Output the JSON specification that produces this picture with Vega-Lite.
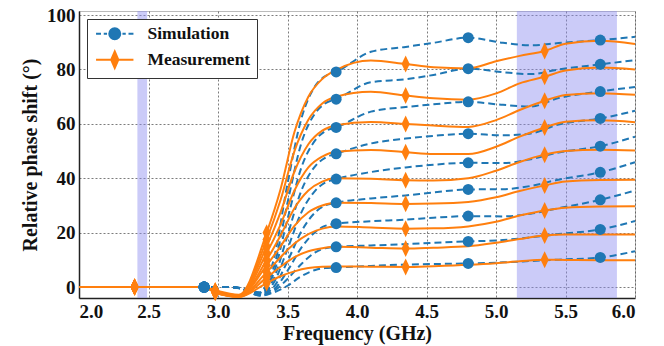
{
"$schema": "https://vega.github.io/schema/vega-lite/v6.json",
"width": 556, "height": 287,
"autosize": "none",
"padding": {"left": 79, "top": 11, "right": 29, "bottom": 48},
"background": "white",
"config": {
 "view": {"stroke": "#bbb", "strokeWidth": 1},
 "font": "Liberation Serif, serif",
 "axis": {"labelFont": "Liberation Serif, serif", "labelFontWeight": "bold", "labelFontSize": 19, "labelColor": "#111", "titleFont": "Liberation Serif, serif", "titleFontWeight": "bold", "titleFontSize": 20, "titleColor": "#111", "ticks": false, "domainColor": "#222", "domainWidth": 1.5, "gridColor": "#444", "gridDash": [2, 2], "gridOpacity": 0.7, "gridWidth": 1, "labelPadding": 4},
 "axisX": {"titlePadding": 2},
 "axisY": {"titlePadding": 6},
 "legend": {"orient": "top-left", "offset": 8, "labelFont": "Liberation Serif, serif", "labelFontWeight": "bold", "labelFontSize": 17.5, "labelColor": "#111", "strokeColor": "#333", "fillColor": "white", "padding": 6, "symbolSize": 121, "symbolStrokeWidth": 2, "symbolOffset": 13, "labelOffset": 24, "rowPadding": 3, "symbolOpacity": 1}
},
"datasets": {
 "bands": [{"x1": 2.42, "x2": 2.49}, {"x1": 5.15, "x2": 5.87}],
 "curves": [
{"s":"S","k":9,"x":2,"y":0},{"s":"S","k":9,"x":2.9,"y":0},{"s":"S","k":9,"x":3.1,"y":0},{"s":"S","k":9,"x":3.2,"y":-0.8},{"s":"S","k":9,"x":3.3,"y":-2},{"s":"S","k":9,"x":3.4,"y":10},{"s":"S","k":9,"x":3.5,"y":38},{"s":"S","k":9,"x":3.6,"y":62},{"s":"S","k":9,"x":3.7,"y":74},{"s":"S","k":9,"x":3.77,"y":77.5},{"s":"S","k":9,"x":3.85,"y":79.1},{"s":"S","k":9,"x":4.1,"y":86.5},{"s":"S","k":9,"x":4.35,"y":88.3},{"s":"S","k":9,"x":4.55,"y":89.8},{"s":"S","k":9,"x":4.8,"y":91.7},{"s":"S","k":9,"x":5.05,"y":89.8},{"s":"S","k":9,"x":5.25,"y":88.9},{"s":"S","k":9,"x":5.45,"y":89.7},{"s":"S","k":9,"x":5.75,"y":90.8},{"s":"S","k":9,"x":6,"y":92},
{"s":"S","k":8,"x":2,"y":0},{"s":"S","k":8,"x":2.9,"y":0},{"s":"S","k":8,"x":3.1,"y":0},{"s":"S","k":8,"x":3.2,"y":-0.8},{"s":"S","k":8,"x":3.3,"y":-2},{"s":"S","k":8,"x":3.4,"y":7},{"s":"S","k":8,"x":3.5,"y":31},{"s":"S","k":8,"x":3.6,"y":53},{"s":"S","k":8,"x":3.7,"y":64},{"s":"S","k":8,"x":3.77,"y":67.5},{"s":"S","k":8,"x":3.85,"y":69.1},{"s":"S","k":8,"x":4.1,"y":75.3},{"s":"S","k":8,"x":4.35,"y":76.4},{"s":"S","k":8,"x":4.55,"y":78},{"s":"S","k":8,"x":4.8,"y":80.3},{"s":"S","k":8,"x":5.05,"y":79},{"s":"S","k":8,"x":5.25,"y":78.3},{"s":"S","k":8,"x":5.45,"y":80},{"s":"S","k":8,"x":5.75,"y":81.9},{"s":"S","k":8,"x":6,"y":83.4},
{"s":"S","k":7,"x":2,"y":0},{"s":"S","k":7,"x":2.9,"y":0},{"s":"S","k":7,"x":3.1,"y":0},{"s":"S","k":7,"x":3.2,"y":-0.8},{"s":"S","k":7,"x":3.3,"y":-2.2},{"s":"S","k":7,"x":3.4,"y":5},{"s":"S","k":7,"x":3.5,"y":25},{"s":"S","k":7,"x":3.6,"y":44},{"s":"S","k":7,"x":3.7,"y":54},{"s":"S","k":7,"x":3.77,"y":57.3},{"s":"S","k":7,"x":3.85,"y":58.7},{"s":"S","k":7,"x":4.1,"y":64.5},{"s":"S","k":7,"x":4.35,"y":66.2},{"s":"S","k":7,"x":4.55,"y":67.2},{"s":"S","k":7,"x":4.8,"y":68.1},{"s":"S","k":7,"x":5.05,"y":67},{"s":"S","k":7,"x":5.25,"y":66.4},{"s":"S","k":7,"x":5.45,"y":69.5},{"s":"S","k":7,"x":5.75,"y":71.9},{"s":"S","k":7,"x":6,"y":73.6},
{"s":"S","k":6,"x":2,"y":0},{"s":"S","k":6,"x":2.9,"y":0},{"s":"S","k":6,"x":3.1,"y":0},{"s":"S","k":6,"x":3.2,"y":-0.9},{"s":"S","k":6,"x":3.3,"y":-2.4},{"s":"S","k":6,"x":3.4,"y":3},{"s":"S","k":6,"x":3.5,"y":19},{"s":"S","k":6,"x":3.6,"y":35.5},{"s":"S","k":6,"x":3.7,"y":44.5},{"s":"S","k":6,"x":3.77,"y":47.5},{"s":"S","k":6,"x":3.85,"y":49},{"s":"S","k":6,"x":4.1,"y":52.8},{"s":"S","k":6,"x":4.35,"y":54.6},{"s":"S","k":6,"x":4.55,"y":55.6},{"s":"S","k":6,"x":4.8,"y":56.4},{"s":"S","k":6,"x":5.05,"y":55.8},{"s":"S","k":6,"x":5.25,"y":56.5},{"s":"S","k":6,"x":5.45,"y":59.8},{"s":"S","k":6,"x":5.75,"y":62},{"s":"S","k":6,"x":6,"y":64.8},
{"s":"S","k":5,"x":2,"y":0},{"s":"S","k":5,"x":2.9,"y":0},{"s":"S","k":5,"x":3.1,"y":0},{"s":"S","k":5,"x":3.2,"y":-1},{"s":"S","k":5,"x":3.3,"y":-2.6},{"s":"S","k":5,"x":3.4,"y":1.5},{"s":"S","k":5,"x":3.5,"y":14},{"s":"S","k":5,"x":3.6,"y":27.5},{"s":"S","k":5,"x":3.7,"y":35.5},{"s":"S","k":5,"x":3.77,"y":38.4},{"s":"S","k":5,"x":3.85,"y":39.7},{"s":"S","k":5,"x":4.1,"y":42.3},{"s":"S","k":5,"x":4.35,"y":44},{"s":"S","k":5,"x":4.55,"y":45},{"s":"S","k":5,"x":4.8,"y":45.7},{"s":"S","k":5,"x":5.05,"y":45.6},{"s":"S","k":5,"x":5.25,"y":47},{"s":"S","k":5,"x":5.45,"y":49.5},{"s":"S","k":5,"x":5.75,"y":51.8},{"s":"S","k":5,"x":6,"y":55.3},
{"s":"S","k":4,"x":2,"y":0},{"s":"S","k":4,"x":2.9,"y":0},{"s":"S","k":4,"x":3.1,"y":0},{"s":"S","k":4,"x":3.2,"y":-1},{"s":"S","k":4,"x":3.3,"y":-2.8},{"s":"S","k":4,"x":3.4,"y":0},{"s":"S","k":4,"x":3.5,"y":9.5},{"s":"S","k":4,"x":3.6,"y":20.5},{"s":"S","k":4,"x":3.7,"y":27.5},{"s":"S","k":4,"x":3.77,"y":30},{"s":"S","k":4,"x":3.85,"y":31},{"s":"S","k":4,"x":4.1,"y":32.6},{"s":"S","k":4,"x":4.35,"y":33.7},{"s":"S","k":4,"x":4.55,"y":34.8},{"s":"S","k":4,"x":4.8,"y":35.9},{"s":"S","k":4,"x":5.05,"y":36},{"s":"S","k":4,"x":5.25,"y":37.2},{"s":"S","k":4,"x":5.45,"y":39.5},{"s":"S","k":4,"x":5.75,"y":42.2},{"s":"S","k":4,"x":6,"y":45.9},
{"s":"S","k":3,"x":2,"y":0},{"s":"S","k":3,"x":2.9,"y":0},{"s":"S","k":3,"x":3.1,"y":0},{"s":"S","k":3,"x":3.2,"y":-1.1},{"s":"S","k":3,"x":3.3,"y":-3},{"s":"S","k":3,"x":3.4,"y":-1},{"s":"S","k":3,"x":3.5,"y":6},{"s":"S","k":3,"x":3.6,"y":14.5},{"s":"S","k":3,"x":3.7,"y":20.3},{"s":"S","k":3,"x":3.77,"y":22.5},{"s":"S","k":3,"x":3.85,"y":23.3},{"s":"S","k":3,"x":4.1,"y":24.2},{"s":"S","k":3,"x":4.35,"y":24.8},{"s":"S","k":3,"x":4.55,"y":25.5},{"s":"S","k":3,"x":4.8,"y":26.1},{"s":"S","k":3,"x":5.05,"y":26},{"s":"S","k":3,"x":5.25,"y":27},{"s":"S","k":3,"x":5.45,"y":29},{"s":"S","k":3,"x":5.75,"y":32.1},{"s":"S","k":3,"x":6,"y":35.5},
{"s":"S","k":2,"x":2,"y":0},{"s":"S","k":2,"x":2.9,"y":0},{"s":"S","k":2,"x":3.1,"y":0},{"s":"S","k":2,"x":3.2,"y":-1.1},{"s":"S","k":2,"x":3.3,"y":-3},{"s":"S","k":2,"x":3.4,"y":-1.5},{"s":"S","k":2,"x":3.5,"y":3},{"s":"S","k":2,"x":3.6,"y":8.5},{"s":"S","k":2,"x":3.7,"y":12.8},{"s":"S","k":2,"x":3.77,"y":14.3},{"s":"S","k":2,"x":3.85,"y":14.8},{"s":"S","k":2,"x":4.1,"y":15.3},{"s":"S","k":2,"x":4.35,"y":15.8},{"s":"S","k":2,"x":4.55,"y":16.3},{"s":"S","k":2,"x":4.8,"y":16.8},{"s":"S","k":2,"x":5.05,"y":17.3},{"s":"S","k":2,"x":5.25,"y":18.3},{"s":"S","k":2,"x":5.45,"y":19.5},{"s":"S","k":2,"x":5.75,"y":21.2},{"s":"S","k":2,"x":6,"y":24.3},
{"s":"S","k":1,"x":2,"y":0},{"s":"S","k":1,"x":2.9,"y":0},{"s":"S","k":1,"x":3.1,"y":0},{"s":"S","k":1,"x":3.2,"y":-1.2},{"s":"S","k":1,"x":3.3,"y":-3.2},{"s":"S","k":1,"x":3.4,"y":-2},{"s":"S","k":1,"x":3.5,"y":0.5},{"s":"S","k":1,"x":3.6,"y":4},{"s":"S","k":1,"x":3.7,"y":6.3},{"s":"S","k":1,"x":3.77,"y":7},{"s":"S","k":1,"x":3.85,"y":7.2},{"s":"S","k":1,"x":4.1,"y":7.8},{"s":"S","k":1,"x":4.35,"y":8.3},{"s":"S","k":1,"x":4.55,"y":8.5},{"s":"S","k":1,"x":4.8,"y":8.7},{"s":"S","k":1,"x":5.05,"y":9.1},{"s":"S","k":1,"x":5.25,"y":9.6},{"s":"S","k":1,"x":5.45,"y":10.1},{"s":"S","k":1,"x":5.75,"y":10.9},{"s":"S","k":1,"x":6,"y":13.2},
{"s":"M","k":9,"x":2,"y":0},{"s":"M","k":9,"x":2.4,"y":0},{"s":"M","k":9,"x":2.9,"y":0},{"s":"M","k":9,"x":2.98,"y":-1.2},{"s":"M","k":9,"x":3.15,"y":-2.8},{"s":"M","k":9,"x":3.35,"y":20},{"s":"M","k":9,"x":3.45,"y":36},{"s":"M","k":9,"x":3.55,"y":57},{"s":"M","k":9,"x":3.65,"y":70},{"s":"M","k":9,"x":3.75,"y":76.5},{"s":"M","k":9,"x":3.85,"y":79.8},{"s":"M","k":9,"x":4.1,"y":83.3},{"s":"M","k":9,"x":4.35,"y":82},{"s":"M","k":9,"x":4.55,"y":80.8},{"s":"M","k":9,"x":4.8,"y":80.4},{"s":"M","k":9,"x":5,"y":83},{"s":"M","k":9,"x":5.17,"y":85},{"s":"M","k":9,"x":5.35,"y":86.8},{"s":"M","k":9,"x":5.5,"y":89.5},{"s":"M","k":9,"x":5.75,"y":90.6},{"s":"M","k":9,"x":6,"y":89.4},
{"s":"M","k":8,"x":2,"y":0},{"s":"M","k":8,"x":2.4,"y":0},{"s":"M","k":8,"x":2.9,"y":0},{"s":"M","k":8,"x":2.98,"y":-1.4},{"s":"M","k":8,"x":3.15,"y":-3},{"s":"M","k":8,"x":3.35,"y":17.5},{"s":"M","k":8,"x":3.45,"y":32},{"s":"M","k":8,"x":3.55,"y":50},{"s":"M","k":8,"x":3.65,"y":61.5},{"s":"M","k":8,"x":3.75,"y":67.5},{"s":"M","k":8,"x":3.85,"y":70},{"s":"M","k":8,"x":4.1,"y":71.8},{"s":"M","k":8,"x":4.35,"y":70.4},{"s":"M","k":8,"x":4.55,"y":69.4},{"s":"M","k":8,"x":4.8,"y":68.9},{"s":"M","k":8,"x":5,"y":71.2},{"s":"M","k":8,"x":5.17,"y":74.9},{"s":"M","k":8,"x":5.35,"y":77.3},{"s":"M","k":8,"x":5.5,"y":79.6},{"s":"M","k":8,"x":5.75,"y":80.7},{"s":"M","k":8,"x":6,"y":80},
{"s":"M","k":7,"x":2,"y":0},{"s":"M","k":7,"x":2.4,"y":0},{"s":"M","k":7,"x":2.9,"y":0},{"s":"M","k":7,"x":2.98,"y":-1.5},{"s":"M","k":7,"x":3.15,"y":-3.1},{"s":"M","k":7,"x":3.35,"y":15},{"s":"M","k":7,"x":3.45,"y":27.5},{"s":"M","k":7,"x":3.55,"y":42.5},{"s":"M","k":7,"x":3.65,"y":52.5},{"s":"M","k":7,"x":3.75,"y":57.5},{"s":"M","k":7,"x":3.85,"y":59.5},{"s":"M","k":7,"x":4.1,"y":60.7},{"s":"M","k":7,"x":4.35,"y":60},{"s":"M","k":7,"x":4.55,"y":59.4},{"s":"M","k":7,"x":4.8,"y":58.9},{"s":"M","k":7,"x":5,"y":61.4},{"s":"M","k":7,"x":5.17,"y":65.1},{"s":"M","k":7,"x":5.35,"y":68.5},{"s":"M","k":7,"x":5.5,"y":70.6},{"s":"M","k":7,"x":5.75,"y":71.3},{"s":"M","k":7,"x":6,"y":70.7},
{"s":"M","k":6,"x":2,"y":0},{"s":"M","k":6,"x":2.4,"y":0},{"s":"M","k":6,"x":2.9,"y":0},{"s":"M","k":6,"x":2.98,"y":-1.6},{"s":"M","k":6,"x":3.15,"y":-3.2},{"s":"M","k":6,"x":3.35,"y":12.5},{"s":"M","k":6,"x":3.45,"y":23},{"s":"M","k":6,"x":3.55,"y":35.5},{"s":"M","k":6,"x":3.65,"y":44},{"s":"M","k":6,"x":3.75,"y":48},{"s":"M","k":6,"x":3.85,"y":49.8},{"s":"M","k":6,"x":4.1,"y":50.4},{"s":"M","k":6,"x":4.35,"y":49.6},{"s":"M","k":6,"x":4.55,"y":48.9},{"s":"M","k":6,"x":4.8,"y":48.9},{"s":"M","k":6,"x":5,"y":51.6},{"s":"M","k":6,"x":5.17,"y":55.3},{"s":"M","k":6,"x":5.35,"y":58.7},{"s":"M","k":6,"x":5.5,"y":60.8},{"s":"M","k":6,"x":5.75,"y":61.3},{"s":"M","k":6,"x":6,"y":60.6},
{"s":"M","k":5,"x":2,"y":0},{"s":"M","k":5,"x":2.4,"y":0},{"s":"M","k":5,"x":2.9,"y":0},{"s":"M","k":5,"x":2.98,"y":-1.7},{"s":"M","k":5,"x":3.15,"y":-3.3},{"s":"M","k":5,"x":3.35,"y":10},{"s":"M","k":5,"x":3.45,"y":19},{"s":"M","k":5,"x":3.55,"y":29},{"s":"M","k":5,"x":3.65,"y":35.5},{"s":"M","k":5,"x":3.75,"y":38.8},{"s":"M","k":5,"x":3.85,"y":40},{"s":"M","k":5,"x":4.1,"y":39.8},{"s":"M","k":5,"x":4.35,"y":39.3},{"s":"M","k":5,"x":4.55,"y":39.2},{"s":"M","k":5,"x":4.8,"y":40},{"s":"M","k":5,"x":5,"y":42.8},{"s":"M","k":5,"x":5.17,"y":46},{"s":"M","k":5,"x":5.35,"y":48.7},{"s":"M","k":5,"x":5.5,"y":50},{"s":"M","k":5,"x":5.75,"y":50.5},{"s":"M","k":5,"x":6,"y":50.2},
{"s":"M","k":4,"x":2,"y":0},{"s":"M","k":4,"x":2.4,"y":0},{"s":"M","k":4,"x":2.9,"y":0},{"s":"M","k":4,"x":2.98,"y":-1.8},{"s":"M","k":4,"x":3.15,"y":-3.4},{"s":"M","k":4,"x":3.35,"y":8},{"s":"M","k":4,"x":3.45,"y":15},{"s":"M","k":4,"x":3.55,"y":22.5},{"s":"M","k":4,"x":3.65,"y":27.5},{"s":"M","k":4,"x":3.75,"y":30},{"s":"M","k":4,"x":3.85,"y":31},{"s":"M","k":4,"x":4.1,"y":30.9},{"s":"M","k":4,"x":4.35,"y":30.6},{"s":"M","k":4,"x":4.55,"y":30.7},{"s":"M","k":4,"x":4.8,"y":31.3},{"s":"M","k":4,"x":5,"y":33},{"s":"M","k":4,"x":5.17,"y":35.3},{"s":"M","k":4,"x":5.35,"y":37.4},{"s":"M","k":4,"x":5.5,"y":38.8},{"s":"M","k":4,"x":5.75,"y":39.4},{"s":"M","k":4,"x":6,"y":39.5},
{"s":"M","k":3,"x":2,"y":0},{"s":"M","k":3,"x":2.4,"y":0},{"s":"M","k":3,"x":2.9,"y":0},{"s":"M","k":3,"x":2.98,"y":-1.9},{"s":"M","k":3,"x":3.15,"y":-3.5},{"s":"M","k":3,"x":3.35,"y":5.5},{"s":"M","k":3,"x":3.45,"y":11},{"s":"M","k":3,"x":3.55,"y":16},{"s":"M","k":3,"x":3.65,"y":19.5},{"s":"M","k":3,"x":3.75,"y":21.5},{"s":"M","k":3,"x":3.85,"y":22.3},{"s":"M","k":3,"x":4.1,"y":21.9},{"s":"M","k":3,"x":4.35,"y":21.5},{"s":"M","k":3,"x":4.55,"y":21.6},{"s":"M","k":3,"x":4.8,"y":22.3},{"s":"M","k":3,"x":5,"y":24},{"s":"M","k":3,"x":5.17,"y":26.3},{"s":"M","k":3,"x":5.35,"y":28.2},{"s":"M","k":3,"x":5.5,"y":29.2},{"s":"M","k":3,"x":5.75,"y":29.6},{"s":"M","k":3,"x":6,"y":29.7},
{"s":"M","k":2,"x":2,"y":0},{"s":"M","k":2,"x":2.4,"y":0},{"s":"M","k":2,"x":2.9,"y":0},{"s":"M","k":2,"x":2.98,"y":-2},{"s":"M","k":2,"x":3.15,"y":-3.5},{"s":"M","k":2,"x":3.35,"y":3.5},{"s":"M","k":2,"x":3.45,"y":7.5},{"s":"M","k":2,"x":3.55,"y":11},{"s":"M","k":2,"x":3.65,"y":13.2},{"s":"M","k":2,"x":3.75,"y":14.3},{"s":"M","k":2,"x":3.85,"y":14.8},{"s":"M","k":2,"x":4.1,"y":14.5},{"s":"M","k":2,"x":4.35,"y":14.2},{"s":"M","k":2,"x":4.55,"y":14.5},{"s":"M","k":2,"x":4.8,"y":15},{"s":"M","k":2,"x":5,"y":16.3},{"s":"M","k":2,"x":5.17,"y":17.7},{"s":"M","k":2,"x":5.35,"y":19},{"s":"M","k":2,"x":5.5,"y":19.3},{"s":"M","k":2,"x":5.75,"y":19.3},{"s":"M","k":2,"x":6,"y":19.3},
{"s":"M","k":1,"x":2,"y":0},{"s":"M","k":1,"x":2.4,"y":0},{"s":"M","k":1,"x":2.9,"y":0},{"s":"M","k":1,"x":2.98,"y":-2},{"s":"M","k":1,"x":3.15,"y":-3.6},{"s":"M","k":1,"x":3.35,"y":1.5},{"s":"M","k":1,"x":3.45,"y":4},{"s":"M","k":1,"x":3.55,"y":5.8},{"s":"M","k":1,"x":3.65,"y":7},{"s":"M","k":1,"x":3.75,"y":7.5},{"s":"M","k":1,"x":3.85,"y":7.6},{"s":"M","k":1,"x":4.1,"y":7.5},{"s":"M","k":1,"x":4.35,"y":7.4},{"s":"M","k":1,"x":4.55,"y":7.7},{"s":"M","k":1,"x":4.8,"y":8.2},{"s":"M","k":1,"x":5,"y":8.8},{"s":"M","k":1,"x":5.17,"y":9.5},{"s":"M","k":1,"x":5.35,"y":10.1},{"s":"M","k":1,"x":5.5,"y":10},{"s":"M","k":1,"x":5.75,"y":9.9},{"s":"M","k":1,"x":6,"y":9.9}
 ]
},
"layer": [
 {
  "data": {"name": "bands"},
  "mark": {"type": "rect", "color": "#8c8cf0", "opacity": 0.45},
  "encoding": {
   "x": {"field": "x1", "type": "quantitative", "scale": {"domain": [2, 6], "nice": false, "zero": false}, "title": "Frequency (GHz)"},
   "x2": {"field": "x2"}
  }
 },
 {
  "data": {"name": "curves"},
  "transform": [{"filter": "datum.s == 'S'"}],
  "mark": {"type": "line", "interpolate": "monotone", "strokeWidth": 2, "strokeDash": [7, 4], "color": "#1f77b4"},
  "encoding": {
   "x": {"field": "x", "type": "quantitative", "scale": {"domain": [2, 6], "nice": false, "zero": false}, "title": "Frequency (GHz)", "axis": {"values": [2, 2.5, 3, 3.5, 4, 4.5, 5, 5.5, 6], "format": ".1f"}},
   "y": {"field": "y", "type": "quantitative", "scale": {"domain": [-4, 101.5], "nice": false, "zero": false}, "title": "Relative phase shift (°)", "axis": {"values": [0, 10, 20, 30, 40, 50, 60, 70, 80, 90, 100]}},
   "detail": {"field": "k", "type": "nominal"}
  }
 },
 {
  "data": {"name": "curves"},
  "transform": [{"filter": "datum.s == 'M'"}],
  "mark": {"type": "line", "interpolate": "monotone", "strokeWidth": 2, "color": "#ff7f0e"},
  "encoding": {
   "x": {"field": "x", "type": "quantitative", "scale": {"domain": [2, 6], "nice": false, "zero": false}, "title": "Frequency (GHz)"},
   "y": {"field": "y", "type": "quantitative", "scale": {"domain": [-4, 101.5], "nice": false, "zero": false}, "title": "Relative phase shift (°)"},
   "detail": {"field": "k", "type": "nominal"}
  }
 },
 {
  "data": {"name": "curves"},
  "transform": [{"filter": "datum.s == 'S' && (datum.x == 2.9 || datum.x == 3.85 || datum.x == 4.8 || datum.x == 5.75)"}],
  "mark": {"type": "circle", "size": 121, "color": "#1f77b4", "opacity": 1},
  "encoding": {
   "x": {"field": "x", "type": "quantitative", "scale": {"domain": [2, 6], "nice": false, "zero": false}, "title": "Frequency (GHz)"},
   "y": {"field": "y", "type": "quantitative", "scale": {"domain": [-4, 101.5], "nice": false, "zero": false}, "title": "Relative phase shift (°)"}
  }
 },
 {
  "data": {"name": "curves"},
  "transform": [{"filter": "datum.s == 'M' && (datum.x == 2.4 || datum.x == 2.98 || datum.x == 3.35 || datum.x == 4.35 || datum.x == 5.35)"}],
  "mark": {"type": "point", "shape": "M 0 -1 L 0.48 0 L 0 1 L -0.48 0 Z", "size": 289, "filled": true, "color": "#ff7f0e", "opacity": 1},
  "encoding": {
   "x": {"field": "x", "type": "quantitative", "scale": {"domain": [2, 6], "nice": false, "zero": false}, "title": "Frequency (GHz)"},
   "y": {"field": "y", "type": "quantitative", "scale": {"domain": [-4, 101.5], "nice": false, "zero": false}, "title": "Relative phase shift (°)"}
  }
 },
 {
  "data": {"name": "curves"},
  "transform": [{"filter": "false"}],
  "mark": {"type": "point", "filled": true},
  "encoding": {
   "x": {"field": "x", "type": "quantitative", "scale": {"domain": [2, 6], "nice": false, "zero": false}, "title": "Frequency (GHz)"},
   "y": {"field": "y", "type": "quantitative", "scale": {"domain": [-4, 101.5], "nice": false, "zero": false}, "title": "Relative phase shift (°)"},
   "fill": {"field": "s", "type": "nominal", "title": null, "scale": {"domain": ["S", "M"], "range": ["#1f77b4", "#ff7f0e"]}, "legend": {"labelExpr": "datum.label == 'S' ? 'Simulation' : 'Measurement'"}},
   "stroke": {"field": "s", "type": "nominal", "title": null, "scale": {"domain": ["S", "M"], "range": ["#1f77b4", "#ff7f0e"]}, "legend": {"labelExpr": "datum.label == 'S' ? 'Simulation' : 'Measurement'"}},
   "shape": {"field": "s", "type": "nominal", "title": null, "scale": {"domain": ["S", "M"], "range": ["M -3.4 0 L -2.5 0 M -2 0 L -1.4 0 M 1.4 0 L 2 0 M 2.5 0 L 3.4 0 M -1 0 A 1 1 0 1 0 1 0 A 1 1 0 1 0 -1 0 Z", "M -3.4 0 L -0.6 0 M 0.6 0 L 3.4 0 M 0 -1.5 L 0.65 0 L 0 1.5 L -0.65 0 Z"]}, "legend": {"labelExpr": "datum.label == 'S' ? 'Simulation' : 'Measurement'"}}
  }
 }
]
}
